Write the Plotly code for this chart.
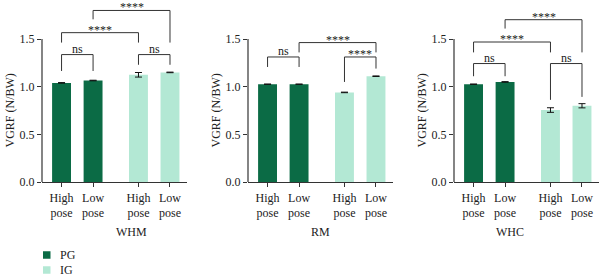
import plotly.graph_objects as go

# ---------------- data ----------------
groups = ["WHM", "RM", "WHC"]
tick_labels = ["High<br>pose", "Low<br>pose", "High<br>pose", "Low<br>pose"]
series_names = ["PG", "IG"]

whm_pg = [1.04, 1.065]
whm_ig = [1.125, 1.15]
rm_pg = [1.026, 1.026]
rm_ig = [0.94, 1.11]
whc_pg = [1.026, 1.05]
whc_ig = [0.755, 0.80]

whm_pg_err = [0.003, 0.003]
whm_ig_err = [0.024, 0.003]
rm_pg_err = [0.002, 0.002]
rm_ig_err = [0.003, 0.003]
whc_pg_err = [0.002, 0.003]
whc_ig_err = [0.024, 0.022]

# significance brackets: (bar i, bar j, top, left leg bottom, right leg bottom, label)
whm_sig = [(0, 1, 1.337, 1.165, 1.165, "ns"), (2, 3, 1.337, 1.23, 1.23, "ns"),
           (0, 2, 1.567, 1.463, 1.463, "****"), (1, 3, 1.80, 1.707, 1.463, "****")]
rm_sig = [(0, 1, 1.312, 1.207, 1.207, "ns"), (2, 3, 1.312, 1.05, 1.19, "****"),
          (1, 3, 1.463, 1.36, 1.36, "****")]
whc_sig = [(0, 1, 1.243, 1.11, 1.11, "ns"), (2, 3, 1.243, 0.862, 0.893, "ns"),
           (0, 2, 1.469, 1.36, 1.36, "****"), (1, 3, 1.703, 1.61, 1.36, "****")]

panels = [
    (whm_pg, whm_ig, whm_pg_err, whm_ig_err, whm_sig),
    (rm_pg, rm_ig, rm_pg_err, rm_ig_err, rm_sig),
    (whc_pg, whc_ig, whc_pg_err, whc_ig_err, whc_sig),
]

# ---------------- style ----------------
W, H = 600, 276
DARK = "#0b6b45"
LIGHT = "#b3e8d4"
FONT = "Liberation Serif"
LINE = "#333333"
TXT = "#222222"
xpos = [0, 1, 2.44, 3.44]
xrange_ = [-0.62, 3.97]
dom_px = [(42, 186.7), (248, 392.7), (454, 598.7)]
plot_bottom_px = 182
px_per_unit = 95.3
yrange = [0, 1.9]


def py(px):
    """pixel row from top -> paper y"""
    return 1 - px / H


fig = go.Figure()
shapes = []
annotations = []

for k, (pg, ig, pge, ige, sig) in enumerate(panels):
    xa = "x" if k == 0 else f"x{k+1}"
    ya = "y" if k == 0 else f"y{k+1}"
    fig.add_trace(go.Bar(
        x=xpos[:2], y=pg, xaxis=xa, yaxis=ya, marker_color=DARK, width=0.6,
        marker_line_width=0, showlegend=False, name=series_names[0],
        error_y=dict(type="data", array=pge, color="#111111", thickness=1, width=3.5)))
    fig.add_trace(go.Bar(
        x=xpos[2:], y=ig, xaxis=xa, yaxis=ya, marker_color=LIGHT, width=0.6,
        marker_line_width=0, showlegend=False, name=series_names[1],
        error_y=dict(type="data", array=ige, color="#111111", thickness=1, width=3.5)))
    # y axis line from 0 to 1.5
    shapes.append(dict(type="line", xref=f"{xa} domain", yref=ya, x0=0, x1=0, y0=0, y1=1.5,
                       line=dict(color=LINE, width=1.2)))
    for (i, j, top, lb, rb, lab) in sig:
        xi, xj = xpos[i], xpos[j]
        shapes.append(dict(type="path", xref=xa, yref=ya,
                           path=f"M{xi},{lb} L{xi},{top} L{xj},{top} L{xj},{rb}",
                           line=dict(color=LINE, width=1)))
        annotations.append(dict(xref=xa, yref=ya, x=(xi + xj) / 2, y=top, text=lab,
                                showarrow=False, yanchor="bottom",
                                yshift=(-6 if lab == "****" else -3),
                                font=dict(family=FONT, size=12, color=TXT)))
    # group label
    d0, d1 = dom_px[k]
    annotations.append(dict(xref="paper", yref="paper", x=(d0 + d1) / 2 / W,
                            y=py(232), text=groups[k], showarrow=False,
                            yanchor="middle", font=dict(family=FONT, size=12, color=TXT)))
    # y title
    annotations.append(dict(xref="paper", yref=ya, x=(d0 - 32) / W, y=0.75,
                            text="VGRF (N/BW)", textangle=-90, showarrow=False,
                            xanchor="center", yanchor="middle",
                            font=dict(family=FONT, size=12, color=TXT)))

# legend (drawn key)
for name, col, cy in zip(series_names, [DARK, LIGHT], [255, 270]):
    shapes.append(dict(type="rect", xref="paper", yref="paper",
                       x0=43 / W, x1=50.5 / W, y0=py(cy + 3.75), y1=py(cy - 3.75),
                       fillcolor=col, line=dict(width=0)))
    annotations.append(dict(xref="paper", yref="paper", x=58 / W, y=py(cy), text=name,
                            showarrow=False, xanchor="left", yanchor="middle",
                            font=dict(family=FONT, size=12, color=TXT)))

layout = dict(
    width=W, height=H, margin=dict(l=0, r=0, t=0, b=0, autoexpand=False),
    paper_bgcolor="white", plot_bgcolor="white",
    barmode="overlay", showlegend=False,
    font=dict(family=FONT, size=12, color=TXT),
    shapes=shapes, annotations=annotations,
)
ydom = [py(plot_bottom_px), py(plot_bottom_px - yrange[1] * px_per_unit)]
for k in range(3):
    xk = "xaxis" if k == 0 else f"xaxis{k+1}"
    yk = "yaxis" if k == 0 else f"yaxis{k+1}"
    d0, d1 = dom_px[k]
    layout[xk] = dict(domain=[d0 / W, min(d1 / W, 1.0)], range=xrange_, tickvals=xpos,
                      ticktext=tick_labels, showline=True, linecolor=LINE, linewidth=1.2,
                      ticks="outside", ticklen=4, tickcolor=LINE, showgrid=False,
                      zeroline=False, anchor="y" if k == 0 else f"y{k+1}", automargin=False,
                      tickfont=dict(family=FONT, size=12, color=TXT), fixedrange=True)
    layout[yk] = dict(domain=ydom, range=yrange, tickvals=[0, 0.5, 1.0, 1.5],
                      ticktext=["0.0", "0.5", "1.0", "1.5"], showline=False,
                      ticks="outside", ticklen=4, tickcolor=LINE, showgrid=False,
                      zeroline=False, anchor="x" if k == 0 else f"x{k+1}", automargin=False,
                      tickfont=dict(family=FONT, size=12, color=TXT), fixedrange=True)
fig.update_layout(**layout)
fig.write_html("out.html")
